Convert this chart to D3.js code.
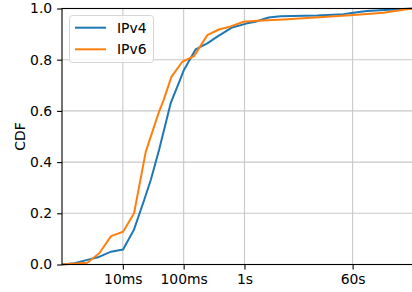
<!DOCTYPE html>
<html>
<head>
<meta charset="utf-8">
<script src="https://cdn.jsdelivr.net/npm/d3@7"></script>
<style>
  html, body { margin: 0; padding: 0; background: #fff; }
  svg { display: block; font-family: "DejaVu Sans", sans-serif; }
</style>
</head>
<body>
<div id="chart"></div>
<script>
// latency in seconds, CDF values
const ipv4X = [0.001, 0.0016, 0.0026, 0.0039, 0.0064, 0.0101, 0.0153, 0.0223, 0.0288, 0.0394, 0.0612, 0.0869, 0.101, 0.157, 0.245, 0.357, 0.628, 1.11, 1.51, 2.5, 3.89, 15.6, 42.4, 61.9, 103, 568];
const ipv4Y = [0, 0.005, 0.018, 0.028, 0.05, 0.059, 0.137, 0.25, 0.33, 0.447, 0.63, 0.72, 0.76, 0.84, 0.864, 0.89, 0.926, 0.942, 0.948, 0.965, 0.97, 0.973, 0.978, 0.983, 0.99, 1.0];
const ipv6X = [0.001, 0.0026, 0.0041, 0.0064, 0.0101, 0.0153, 0.0238, 0.0394, 0.0465, 0.0629, 0.0952, 0.148, 0.245, 0.379, 0.589, 0.975, 1.61, 4.41, 54.7, 192, 568];
const ipv6Y = [0, 0.007, 0.044, 0.111, 0.128, 0.2, 0.44, 0.597, 0.64, 0.733, 0.792, 0.814, 0.896, 0.918, 0.93, 0.948, 0.952, 0.957, 0.974, 0.983, 1.0];

const xTicks = [0.01, 0.1, 1, 60];
const xTickLabels = ["10ms", "100ms", "1s", "60s"];
const yTicks = [0, 0.2, 0.4, 0.6, 0.8, 1.0];

const seriesNames = ["IPv4", "IPv6"];
const colors = ["#1f77b4", "#ff7f0e"];

const width = 412, height = 292;
const m = { left: 62, right: 413, top: 8.5, bottom: 264.5 };

const svg = d3.select("#chart").append("svg")
    .attr("width", width)
    .attr("height", height);

const x = d3.scaleLog().domain([0.001, 568]).range([m.left, 412]);
const y = d3.scaleLinear().domain([0, 1]).range([m.bottom, m.top]);

// grid
svg.append("g").selectAll("line")
    .data(xTicks)
    .enter().append("line")
    .attr("x1", d => x(d)).attr("x2", d => x(d))
    .attr("y1", m.top).attr("y2", m.bottom)
    .attr("stroke", "#c8c8c8").attr("stroke-width", 1.1);

svg.append("g").selectAll("line")
    .data(yTicks)
    .enter().append("line")
    .attr("x1", m.left).attr("x2", m.right)
    .attr("y1", d => y(d)).attr("y2", d => y(d))
    .attr("stroke", "#c8c8c8").attr("stroke-width", 1.1);

// lines
const series = [
    ipv4X.map((v, i) => [v, ipv4Y[i]]),
    ipv6X.map((v, i) => [v, ipv6Y[i]])
];
const line = d3.line().x(d => x(d[0])).y(d => y(d[1]));

series.forEach((s, i) => {
    svg.append("path")
        .attr("d", line(s))
        .attr("fill", "none")
        .attr("stroke", colors[i])
        .attr("stroke-width", 2)
        .attr("stroke-linejoin", "round");
});

// frame
svg.append("rect")
    .attr("x", m.left).attr("y", m.top)
    .attr("width", m.right - m.left).attr("height", m.bottom - m.top)
    .attr("fill", "none").attr("stroke", "#000").attr("stroke-width", 1.1);

// axes
const xAxis = d3.axisBottom(x)
    .tickValues(xTicks)
    .tickFormat((d, i) => xTickLabels[i])
    .tickSize(4.9).tickPadding(4.9);
const gx = svg.append("g").attr("transform", `translate(0,${m.bottom})`).call(xAxis);
gx.select(".domain").remove();

const yAxis = d3.axisLeft(y)
    .tickValues(yTicks)
    .tickFormat(d3.format(".1f"))
    .tickSize(4.9).tickPadding(4.9);
const gy = svg.append("g").attr("transform", `translate(${m.left},0)`).call(yAxis);
gy.select(".domain").remove();

svg.selectAll(".tick text")
    .attr("font-size", 13.9)
    .attr("font-family", "DejaVu Sans")
    .attr("fill", "#000");
svg.selectAll(".tick line").attr("stroke", "#000").attr("stroke-width", 1.1);

// y label
svg.append("text")
    .attr("transform", `translate(25,${(m.top + m.bottom) / 2}) rotate(-90)`)
    .attr("text-anchor", "middle")
    .attr("font-size", 13.9)
    .text("CDF");

// legend
const lg = svg.append("g");
lg.append("rect")
    .attr("x", 69.5).attr("y", 15.5)
    .attr("width", 84).attr("height", 47)
    .attr("rx", 3)
    .attr("fill", "rgba(255,255,255,0.8)")
    .attr("stroke", "#d6d6d6").attr("stroke-width", 1);

seriesNames.forEach((name, i) => {
    const cy = 27.7 + i * 21.6;
    lg.append("line")
        .attr("x1", 75).attr("x2", 106)
        .attr("y1", cy).attr("y2", cy)
        .attr("stroke", colors[i]).attr("stroke-width", 2);
    lg.append("text")
        .attr("x", 117).attr("y", cy + 5)
        .attr("font-size", 13.9)
        .text(name);
});
</script>
</body>
</html>
